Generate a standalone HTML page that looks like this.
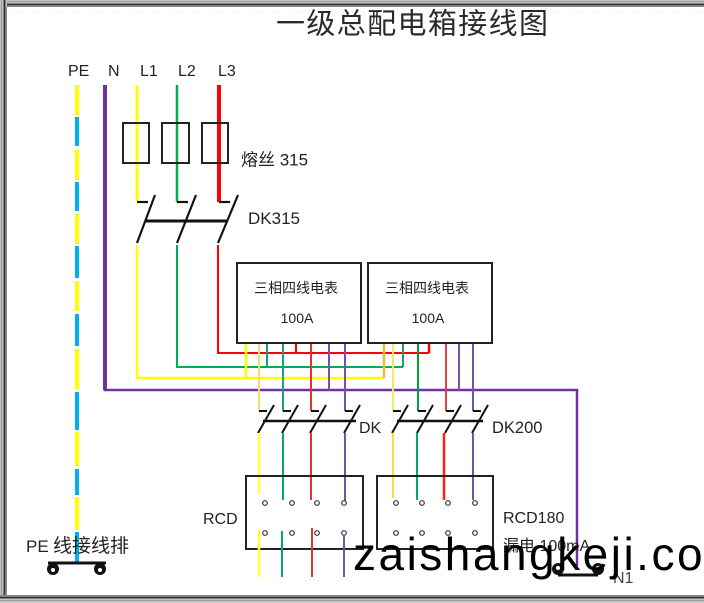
<!DOCTYPE html>
<html>
<head>
<meta charset="utf-8">
<style>
html,body{margin:0;padding:0;background:#fff;}
body{width:704px;height:603px;overflow:hidden;}
svg{display:block;}
text{font-family:"Liberation Sans","Noto Sans CJK SC",sans-serif;fill:#222;}
</style>
</head>
<body>
<svg width="704" height="603" viewBox="0 0 704 603" xmlns="http://www.w3.org/2000/svg">
  <rect x="0" y="0" width="704" height="603" fill="#fff"/>

  <!-- frame -->
  <rect x="0" y="0" width="704" height="7" fill="#c4c4c4"/>
  <line x1="0" y1="1.5" x2="704" y2="1.5" stroke="#999" stroke-width="1"/>
  <line x1="0" y1="4.5" x2="704" y2="4.5" stroke="#333" stroke-width="2"/>
  <line x1="0" y1="6.5" x2="704" y2="6.5" stroke="#888" stroke-width="1"/>
  <rect x="0" y="0" width="7" height="603" fill="#c4c4c4"/>
  <line x1="1.5" y1="0" x2="1.5" y2="603" stroke="#999" stroke-width="1"/>
  <line x1="4.5" y1="0" x2="4.5" y2="603" stroke="#333" stroke-width="2"/>
  <line x1="6.5" y1="7" x2="6.5" y2="595" stroke="#888" stroke-width="1"/>
  <rect x="0" y="595" width="704" height="8" fill="#c4c4c4"/>
  <line x1="0" y1="595.5" x2="704" y2="595.5" stroke="#888" stroke-width="1"/>
  <line x1="0" y1="597.5" x2="704" y2="597.5" stroke="#333" stroke-width="2"/>
  <line x1="0" y1="600.5" x2="704" y2="600.5" stroke="#999" stroke-width="1"/>
  <line x1="8" y1="12" x2="704" y2="12" stroke="#e4e4e4" stroke-width="1" stroke-dasharray="1 4"/>

  <!-- title -->
  <text x="276" y="33.5" font-size="29" textLength="272" lengthAdjust="spacing" style="fill:#2a2a2a">一级总配电箱接线图</text>

  <!-- top labels -->
  <text x="68" y="76" font-size="16">PE</text>
  <text x="108" y="76" font-size="16">N</text>
  <text x="140" y="76" font-size="16">L1</text>
  <text x="178" y="76" font-size="16">L2</text>
  <text x="218" y="76" font-size="16">L3</text>

  <!-- PE dashed line -->
  <g stroke-width="4" fill="none">
    <line x1="77" y1="85" x2="77" y2="115" stroke="#ffff00"/>
    <line x1="77" y1="117" x2="77" y2="146" stroke="#00b0f0"/>
    <line x1="77" y1="150" x2="77" y2="180" stroke="#ffff00"/>
    <line x1="77" y1="182" x2="77" y2="211" stroke="#00b0f0"/>
    <line x1="77" y1="214" x2="77" y2="244" stroke="#ffff00"/>
    <line x1="77" y1="246" x2="77" y2="278" stroke="#00b0f0"/>
    <line x1="77" y1="281" x2="77" y2="311" stroke="#ffff00"/>
    <line x1="77" y1="314" x2="77" y2="346" stroke="#00b0f0"/>
    <line x1="77" y1="349" x2="77" y2="389" stroke="#ffff00"/>
    <line x1="77" y1="392" x2="77" y2="430" stroke="#00b0f0"/>
    <line x1="77" y1="432" x2="77" y2="466" stroke="#ffff00"/>
    <line x1="77" y1="469" x2="77" y2="495" stroke="#00b0f0"/>
    <line x1="77" y1="497" x2="77" y2="530" stroke="#ffff00"/>
    <line x1="77" y1="532" x2="77" y2="562" stroke="#00b0f0"/>
  </g>

  <!-- N line -->
  <polyline points="105,85 105,390 577,390 577,566" fill="none" stroke="#7030a0" stroke-width="2.5"/>
  <line x1="105" y1="85" x2="105" y2="390" stroke="#7030a0" stroke-width="4"/>

  <!-- L1, L2, L3 upper -->
  <line x1="137" y1="85" x2="137" y2="202" stroke="#ffff00" stroke-width="3"/>
  <line x1="177" y1="85" x2="177" y2="202" stroke="#00b050" stroke-width="2.5"/>
  <line x1="219" y1="85" x2="219" y2="202" stroke="#ff0000" stroke-width="4"/>

  <!-- fuses -->
  <g fill="none" stroke="#222" stroke-width="2">
    <rect x="123" y="123" width="26" height="40"/>
    <rect x="162" y="123" width="27" height="40"/>
    <rect x="202" y="123" width="26" height="40"/>
  </g>
  <text x="241" y="165.5" font-size="17">熔丝 315</text>

  <!-- DK315 switch -->
  <g stroke="#111" stroke-width="2.2" fill="none">
    <line x1="137" y1="202" x2="148" y2="202"/>
    <line x1="177" y1="202" x2="188" y2="202"/>
    <line x1="219" y1="202" x2="230" y2="202"/>
    <line x1="155" y1="195" x2="137" y2="243"/>
    <line x1="196" y1="195" x2="177" y2="243"/>
    <line x1="238" y1="195" x2="218" y2="243"/>
  </g>
  <line x1="145" y1="221" x2="228" y2="221" stroke="#111" stroke-width="3"/>
  <text x="248" y="224" font-size="17">DK315</text>

  <!-- lower feed distribution -->
  <polyline points="137,245 137,378 384,378" fill="none" stroke="#ffff00" stroke-width="2.5"/>
  <polyline points="177,245 177,367 403,367" fill="none" stroke="#00b050" stroke-width="2"/>
  <polyline points="218,245 218,353 429,353" fill="none" stroke="#ff0000" stroke-width="2"/>

  <!-- meter 1 connections -->
  <line x1="246" y1="343" x2="246" y2="378" stroke="#ffff00" stroke-width="2.5"/>
  <line x1="267" y1="343" x2="267" y2="367" stroke="#20a070" stroke-width="2"/>
  <line x1="296" y1="343" x2="296" y2="353" stroke="#ff0000" stroke-width="2"/>
  <line x1="329" y1="343" x2="329" y2="390" stroke="#7a4fa8" stroke-width="2"/>
  <line x1="259" y1="343" x2="259" y2="411" stroke="#f3dc70" stroke-width="2"/>
  <line x1="283" y1="343" x2="283" y2="411" stroke="#20a080" stroke-width="2"/>
  <line x1="311" y1="343" x2="311" y2="411" stroke="#e83030" stroke-width="2"/>
  <line x1="345" y1="343" x2="345" y2="411" stroke="#7a4fa8" stroke-width="2"/>

  <!-- meter 2 connections -->
  <line x1="384" y1="343" x2="384" y2="378" stroke="#f0b840" stroke-width="2.5"/>
  <line x1="403" y1="343" x2="403" y2="367" stroke="#20a070" stroke-width="2"/>
  <line x1="429" y1="343" x2="429" y2="353" stroke="#ff0000" stroke-width="2.5"/>
  <line x1="459" y1="343" x2="459" y2="390" stroke="#7a4fa8" stroke-width="2"/>
  <line x1="393" y1="343" x2="393" y2="411" stroke="#f5e860" stroke-width="2"/>
  <line x1="418" y1="343" x2="418" y2="411" stroke="#00a040" stroke-width="2"/>
  <line x1="446" y1="343" x2="446" y2="411" stroke="#e84040" stroke-width="2"/>
  <line x1="473" y1="343" x2="473" y2="411" stroke="#7a4fa8" stroke-width="2"/>

  <!-- meters -->
  <rect x="237" y="263" width="124" height="80" fill="#fff" stroke="#222" stroke-width="2"/>
  <rect x="368" y="263" width="124" height="80" fill="#fff" stroke="#222" stroke-width="2"/>
  <text x="296" y="293" font-size="14" text-anchor="middle">三相四线电表</text>
  <text x="297" y="323" font-size="14" text-anchor="middle">100A</text>
  <text x="427" y="293" font-size="14" text-anchor="middle">三相四线电表</text>
  <text x="428" y="323" font-size="14" text-anchor="middle">100A</text>

  <!-- DK switches lower -->
  <g stroke="#111" stroke-width="2" fill="none">
    <line x1="259" y1="411" x2="267" y2="411"/>
    <line x1="283" y1="411" x2="291" y2="411"/>
    <line x1="311" y1="411" x2="319" y2="411"/>
    <line x1="345" y1="411" x2="353" y2="411"/>
    <line x1="274" y1="405" x2="258" y2="433"/>
    <line x1="298" y1="405" x2="282" y2="433"/>
    <line x1="326" y1="405" x2="310" y2="433"/>
    <line x1="360" y1="405" x2="344" y2="433"/>
    <line x1="393" y1="411" x2="401" y2="411"/>
    <line x1="418" y1="411" x2="426" y2="411"/>
    <line x1="446" y1="411" x2="454" y2="411"/>
    <line x1="473" y1="411" x2="481" y2="411"/>
    <line x1="408" y1="405" x2="392" y2="433"/>
    <line x1="433" y1="405" x2="417" y2="433"/>
    <line x1="461" y1="405" x2="445" y2="433"/>
    <line x1="488" y1="405" x2="472" y2="433"/>
  </g>
  <line x1="263" y1="421" x2="356" y2="421" stroke="#111" stroke-width="2.5"/>
  <line x1="397" y1="421" x2="483" y2="421" stroke="#111" stroke-width="2.5"/>
  <text x="359" y="433" font-size="16">DK</text>
  <text x="492" y="433" font-size="16.5">DK200</text>

  <!-- wires into RCD -->
  <line x1="259" y1="433" x2="259" y2="494" stroke="#ffff40" stroke-width="2.5"/>
  <line x1="283" y1="433" x2="283" y2="500" stroke="#00a878" stroke-width="2"/>
  <line x1="311" y1="433" x2="311" y2="500" stroke="#e83030" stroke-width="2"/>
  <line x1="345" y1="433" x2="345" y2="501" stroke="#7a4fa8" stroke-width="2"/>
  <line x1="393" y1="433" x2="393" y2="498" stroke="#f5e040" stroke-width="2"/>
  <line x1="417" y1="433" x2="417" y2="500" stroke="#00a878" stroke-width="2"/>
  <line x1="444" y1="433" x2="444" y2="500" stroke="#ff2020" stroke-width="2.5"/>
  <line x1="473" y1="433" x2="473" y2="500" stroke="#7a4fa8" stroke-width="2"/>

  <!-- RCD boxes -->
  <rect x="246" y="476" width="117" height="73" fill="none" stroke="#222" stroke-width="2"/>
  <rect x="377" y="476" width="116" height="73" fill="none" stroke="#222" stroke-width="2"/>

  <!-- wires out of left RCD -->
  <line x1="259" y1="530" x2="259" y2="577" stroke="#ffff40" stroke-width="2.5"/>
  <line x1="282" y1="531" x2="282" y2="577" stroke="#00a878" stroke-width="2"/>
  <line x1="312" y1="528" x2="312" y2="577" stroke="#e83030" stroke-width="2"/>
  <line x1="344" y1="536" x2="344" y2="577" stroke="#7a4fa8" stroke-width="2"/>

  <!-- terminal circles -->
  <g fill="#fff" stroke="#333" stroke-width="1.2">
    <circle cx="265" cy="503" r="2.3"/><circle cx="292" cy="503" r="2.3"/><circle cx="317" cy="503" r="2.3"/><circle cx="344" cy="503" r="2.3"/>
    <circle cx="265" cy="533" r="2.3"/><circle cx="292" cy="533" r="2.3"/><circle cx="317" cy="533" r="2.3"/><circle cx="344" cy="533" r="2.3"/>
    <circle cx="396" cy="503" r="2.3"/><circle cx="422" cy="503" r="2.3"/><circle cx="448" cy="503" r="2.3"/><circle cx="475" cy="503" r="2.3"/>
    <circle cx="396" cy="533" r="2.3"/><circle cx="422" cy="533" r="2.3"/><circle cx="448" cy="533" r="2.3"/><circle cx="475" cy="533" r="2.3"/>
  </g>

  <text x="203" y="524" font-size="16">RCD</text>
  <text x="503" y="523" font-size="16">RCD180</text>
  <text x="503" y="551" font-size="16">漏电 100mA</text>

  <!-- PE terminal bar -->
  <text x="26" y="552" font-size="17">PE</text>
  <text x="53" y="552" font-size="19">线接线排</text>
  <line x1="48" y1="563" x2="106" y2="563" stroke="#111" stroke-width="3"/>
  <circle cx="53" cy="569" r="6" fill="#111"/>
  <circle cx="53" cy="570" r="2" fill="#fff"/>
  <circle cx="100" cy="569" r="6" fill="#111"/>
  <circle cx="100" cy="570" r="2" fill="#fff"/>

  <!-- N1 terminal bar -->
  <line x1="558" y1="575" x2="598" y2="575" stroke="#111" stroke-width="3"/>
  <circle cx="558" cy="569" r="6" fill="#111"/>
  <circle cx="558" cy="568" r="2" fill="#fff"/>
  <circle cx="598" cy="569" r="6" fill="#111"/>
  <circle cx="598" cy="568" r="2" fill="#fff"/>
  <text x="613" y="583" font-size="16" style="fill:#444">N1</text>

  <!-- watermark -->
  <text x="353" y="570" font-size="46" letter-spacing="2.5" style="fill:#000">zaishangkeji.co</text>
</svg>
</body>
</html>
